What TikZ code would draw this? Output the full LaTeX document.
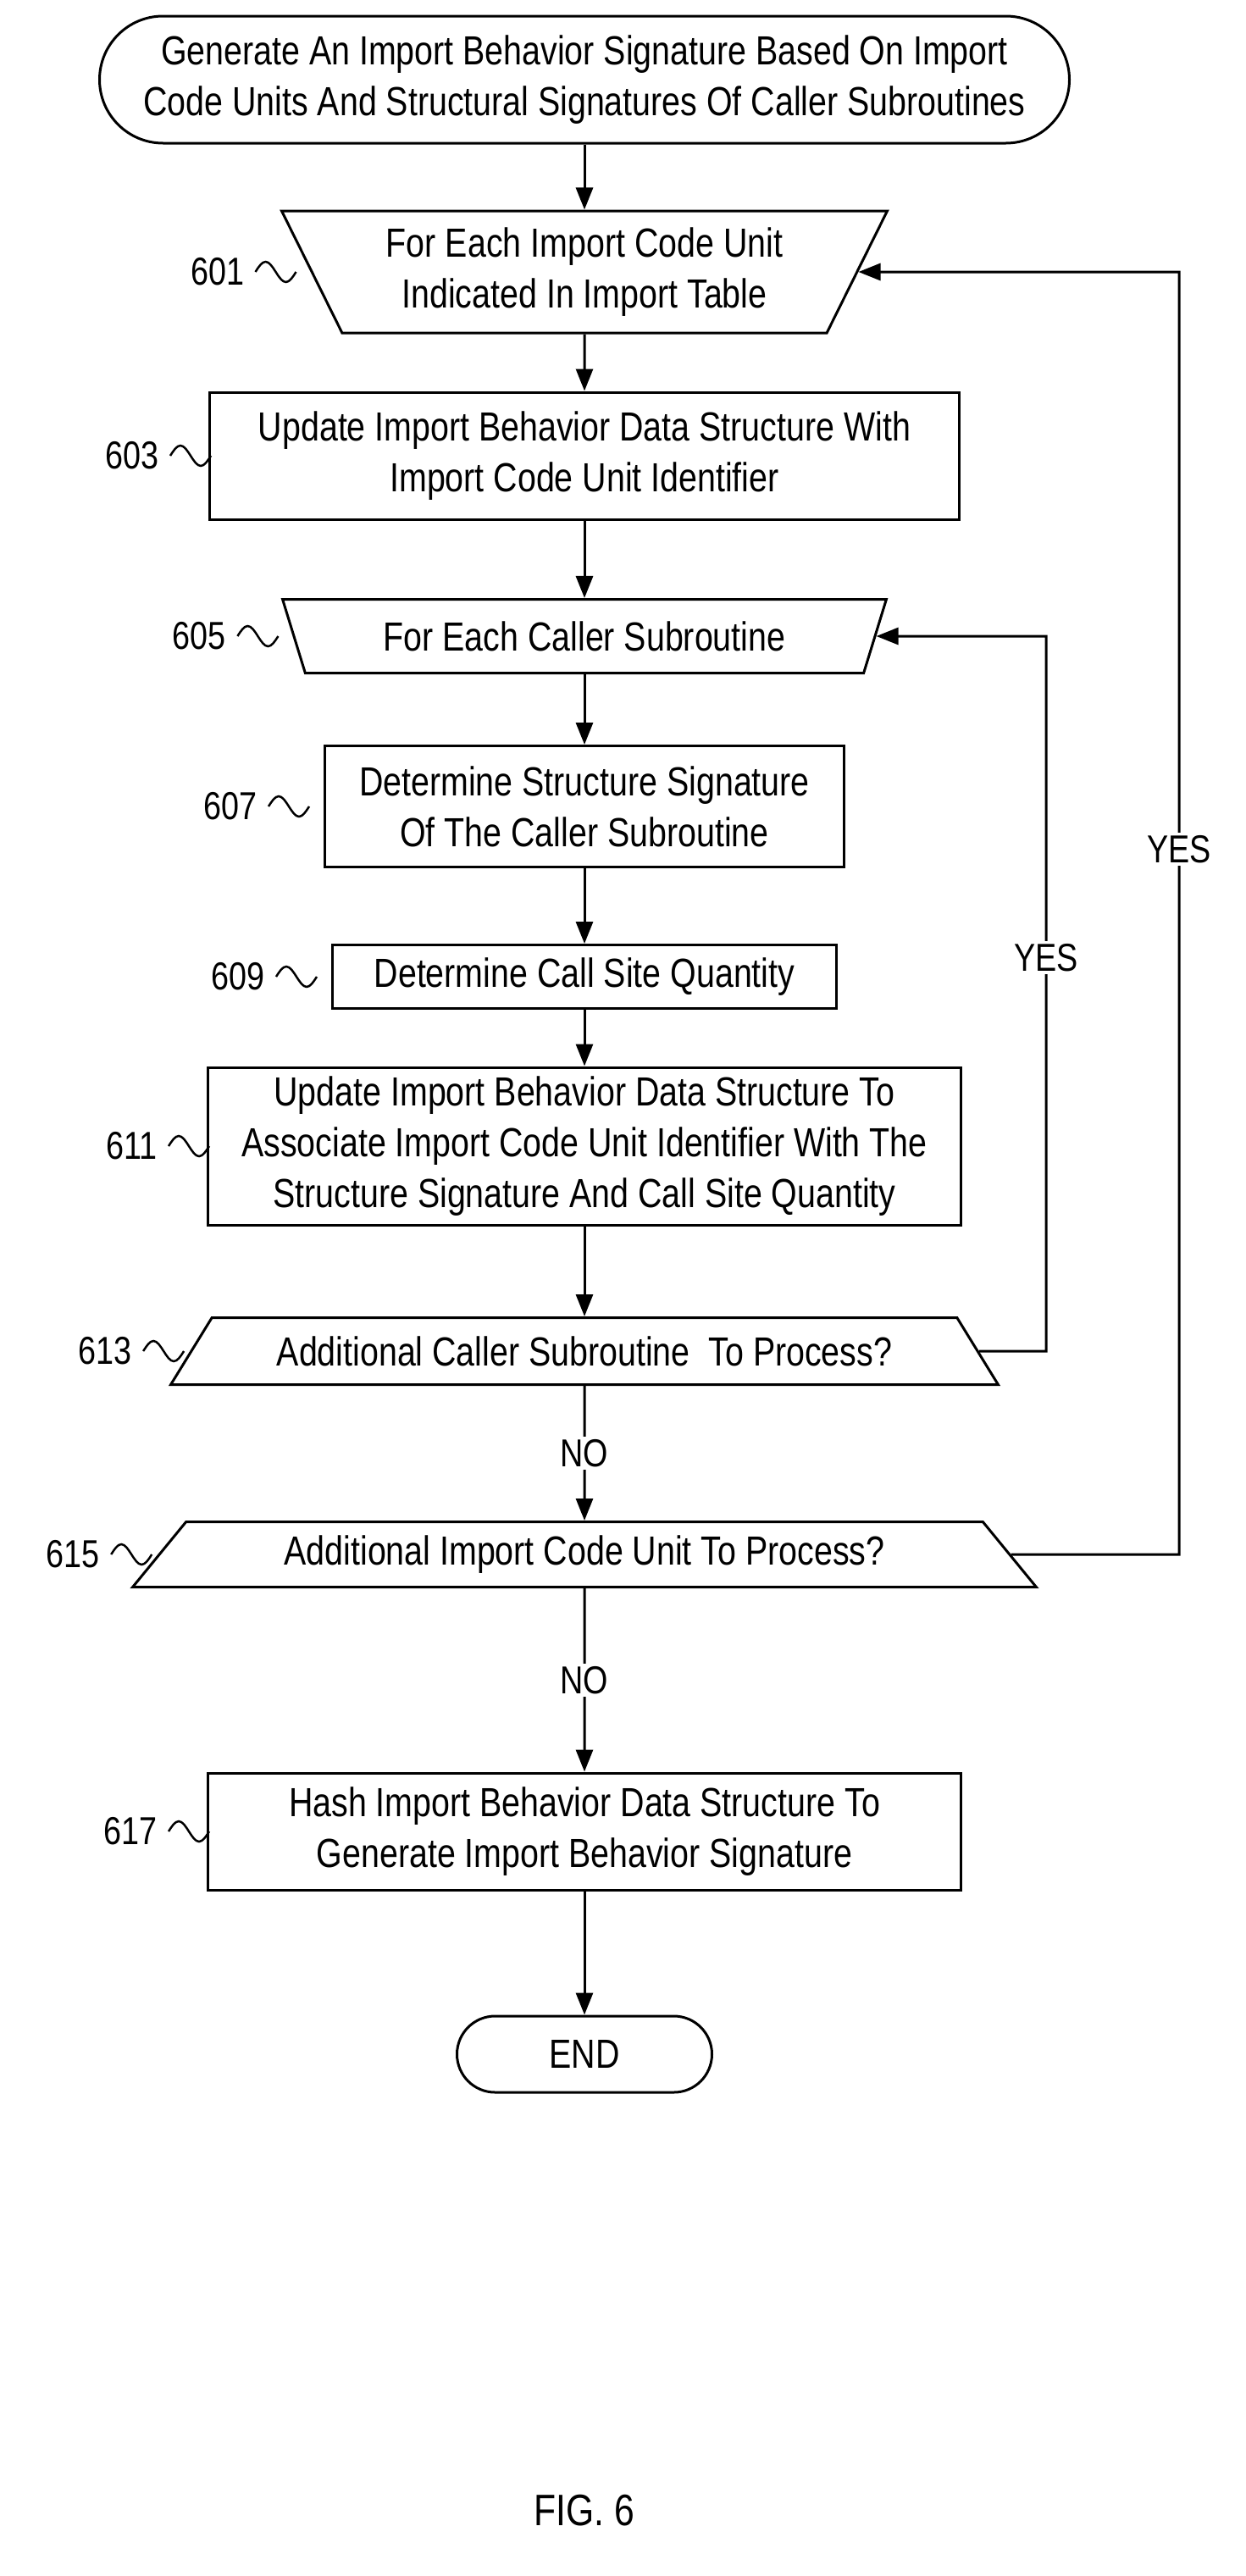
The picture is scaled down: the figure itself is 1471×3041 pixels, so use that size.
\documentclass[tikz,border=0pt]{standalone}
\usepackage{fontspec}
\setmainfont{Liberation Sans}[FakeStretch=0.82]
\usetikzlibrary{shapes.geometric,arrows.meta,positioning,calc}

\tikzset{
  line/.style = {line width=3pt, -{Triangle[length=26pt,width=20pt]}},
  box/.style = {draw, line width=3pt, align=center, font=\fontsize{48}{60}\selectfont},
  loopin/.style = {box, trapezium, trapezium stretches=true, shape border rotate=180},
  decide/.style = {box, trapezium, trapezium stretches=true},
  tag/.style = {font=\fontsize{46}{54}\selectfont},
}
\newcommand{\squig}[1]{%
  \draw[line width=2.5pt] ($(#1.east)+(10,0)$) sin ++(12,-12) cos ++(12,12) sin ++(12,12) cos ++(12,-12);}

\begin{document}
\begin{tikzpicture}[x=1pt, y=-1pt]
	\useasboundingbox (0,0) rectangle (1471,3041);

	\node [box, rounded corners=75pt, minimum width=1145pt, minimum height=150pt] (start) at (690,94)
		{Generate An Import Behavior Signature Based On Import\\Code Units And Structural Signatures Of Caller Subroutines};
	\node [loopin, trapezium left angle=62, trapezium right angle=62, minimum width=718pt, minimum height=144pt] (f601) at (690,321)
		{For Each Import Code Unit\\Indicated In Import Table};
	\node [box, minimum width=885pt, minimum height=150pt] (b603) at (690,538)
		{Update Import Behavior Data Structure With\\Import Code Unit Identifier};
	\node [loopin, trapezium left angle=65, trapezium right angle=65, minimum width=718pt, minimum height=87pt] (f605) at (690,751)
		{For Each Caller Subroutine};
	\node [box, minimum width=613pt, minimum height=143pt] (b607) at (690,952)
		{Determine Structure Signature\\Of The Caller Subroutine};
	\node [box, minimum width=595pt, minimum height=75pt] (b609) at (690,1153)
		{Determine Call Site Quantity};
	\node [box, minimum width=889pt, minimum height=186pt] (b611) at (690,1353)
		{Update Import Behavior Data Structure To\\Associate Import Code Unit Identifier With The\\Structure Signature And Call Site Quantity};
	\node [decide, trapezium left angle=46, trapezium right angle=46, minimum width=983pt, minimum height=79pt] (d613) at (690,1595)
		{Additional Caller Subroutine\ \ To Process?};
	\node [decide, trapezium left angle=47, trapezium right angle=47, minimum width=1077pt, minimum height=77pt] (d615) at (690,1835)
		{Additional Import Code Unit To Process?};
	\node [box, minimum width=889pt, minimum height=138pt] (b617) at (690,2162)
		{Hash Import Behavior Data Structure To\\Generate Import Behavior Signature};
	\node [box, rounded corners=45pt, minimum width=301pt, minimum height=90pt] (stop) at (690,2425) {END};

	% reference numerals
	\node [tag, left=75pt of f601.west] (l601) {601};
	\node [tag, left=55pt of b603.west] (l603) {603};
	\node [tag, left=75pt of f605.west] (l605) {605};
	\node [tag, left=75pt of b607.west] (l607) {607};
	\node [tag, left=75pt of b609.west] (l609) {609};
	\node [tag, left=55pt of b611.west] (l611) {611};
	\node [tag, left=65pt of d613.west] (l613) {613};
	\node [tag, left=65pt of d615.west] (l615) {615};
	\node [tag, left=55pt of b617.west] (l617) {617};
	\foreach \n in {l601,l603,l605,l607,l609,l611,l613,l615,l617} {\squig{\n}}

	\draw [line] (start) -- (f601);
	\draw [line] (f601) -- (b603);
	\draw [line] (b603) -- (f605);
	\draw [line] (f605) -- (b607);
	\draw [line] (b607) -- (b609);
	\draw [line] (b609) -- (b611);
	\draw [line] (b611) -- (d613);
	\draw [line] (d613) -- node [tag, fill=white] {NO} (d615);
	\draw [line] (d615) -- node [tag, fill=white] {NO} (b617);
	\draw [line] (b617) -- (stop);

	\coordinate (r1) at (1235,1595);
	\coordinate (r2) at (1392,1835);
	\draw [line] (d613.east) -- (r1) -- node [tag, fill=white, pos=0.55] {YES} (r1 |- f605.east) -- (f605.east);
	\draw [line] (d615.east) -- (r2) -- node [tag, fill=white, pos=0.55] {YES} (r2 |- f601.east) -- (f601.east);

	\node [tag, font=\fontsize{52}{60}\selectfont] (fig) at (690,2964) {FIG. 6};
\end{tikzpicture}
\end{document}
